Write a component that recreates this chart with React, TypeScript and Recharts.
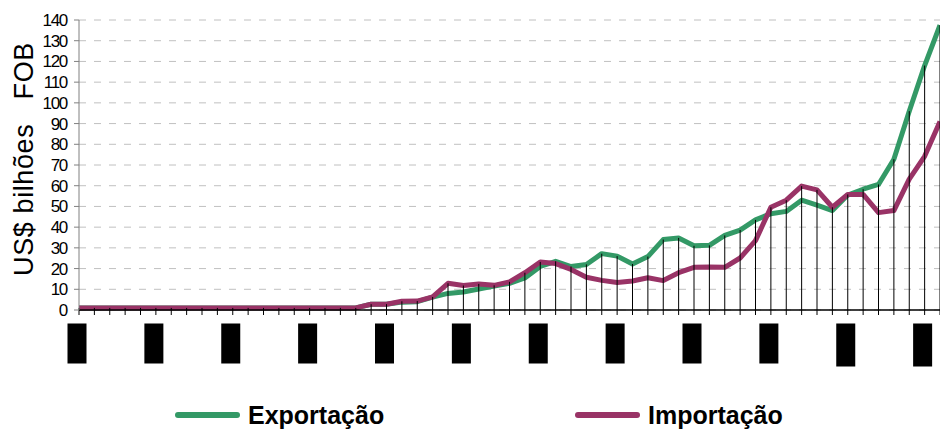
import React from "react";
import { LineChart, Line, XAxis, YAxis, CartesianGrid, ErrorBar } from "recharts";

const years: number[] = [
  1950, 1951, 1952, 1953, 1954, 1955, 1956, 1957, 1958, 1959,
  1960, 1961, 1962, 1963, 1964, 1965, 1966, 1967, 1968, 1969,
  1970, 1971, 1972, 1973, 1974, 1975, 1976, 1977, 1978, 1979,
  1980, 1981, 1982, 1983, 1984, 1985, 1986, 1987, 1988, 1989,
  1990, 1991, 1992, 1993, 1994, 1995, 1996, 1997, 1998, 1999,
  2000, 2001, 2002, 2003, 2004, 2005, 2006,
];

const exportacao: number[] = [
  1.0, 1.0, 1.0, 1.0, 1.0, 1.0, 1.0, 1.0, 1.0, 1.0,
  1.0, 1.0, 1.0, 1.0, 1.0, 1.0, 1.0, 1.0, 1.0, 2.8,
  2.8, 3.8, 4.0, 6.2, 8.0, 8.7, 10.1, 11.6, 12.9, 15.5,
  21.0, 23.5, 21.0, 22.0, 27.2, 26.0, 22.2, 25.8, 34.0, 34.8,
  31.0, 31.2, 36.0, 38.6, 43.5, 46.5, 47.6, 53.0, 50.6, 48.0,
  55.5, 58.3, 60.6, 72.8, 96.0, 118.0, 137.5,
];

const importacao: number[] = [
  1.0, 1.0, 1.0, 1.0, 1.0, 1.0, 1.0, 1.0, 1.0, 1.0,
  1.0, 1.0, 1.0, 1.0, 1.0, 1.0, 1.0, 1.0, 1.0, 2.8,
  2.8, 4.2, 4.3, 6.3, 12.9, 11.8, 12.6, 11.9, 13.6, 18.0,
  23.2, 22.4, 19.6, 15.8, 14.3, 13.3, 14.0, 15.6, 14.2, 18.0,
  20.6, 20.8, 20.6, 25.1, 33.5, 49.6, 53.0, 59.8, 58.0, 49.6,
  55.8, 55.8, 47.0, 48.0, 63.2, 74.2, 91.0,
];

const yTicks: number[] = [0, 10, 20, 30, 40, 50, 60, 70, 80, 90, 100, 110, 120, 130, 140];

const GREEN = "#339966";
const MAGENTA = "#993366";

const data = years.map((year, i) => ({
  year,
  exp: exportacao[i],
  imp: importacao[i],
  top: Math.max(exportacao[i], importacao[i]),
}));

const YearTick = (props: any) => {
  const { x, y, payload } = props;
  const yr = Number(payload.value);
  if ((yr - 1950) % 5 !== 0) return <g />;
  const h = yr >= 2000 ? 43 : 40;
  const cy = y + 6.5 + h / 2;
  return (
    <g>
      <rect x={x - 11.5} y={y + 6.5} width={19} height={h} fill="#000" />
      <text
        x={x - 2}
        y={cy + 5}
        fontSize={14}
        fill="#000"
        textAnchor="middle"
        fontFamily="Liberation Sans"
        transform={`rotate(-90 ${x - 2} ${cy})`}
      >
        {yr}
      </text>
    </g>
  );
};

const YLabel = () => (
  <text
    x={33}
    y={159}
    transform="rotate(-90 33 159)"
    textAnchor="middle"
    fontSize={27}
    fontFamily="Liberation Sans, Arial, sans-serif"
    fill="#000"
    letterSpacing={0.6}
    xmlSpace="preserve"
    style={{ whiteSpace: "pre" }}
  >
    {"US$ bilhões   FOB"}
  </text>
);

const LegendItem = ({ color, label, left }: { color: string; label: string; left: number }) => (
  <div
    style={{
      position: "absolute",
      left,
      top: 402,
      height: 26,
      display: "flex",
      alignItems: "center",
    }}
  >
    <span
      style={{
        display: "inline-block",
        width: 65,
        height: 6,
        background: color,
        borderRadius: 3,
      }}
    />
    <span
      style={{
        marginLeft: 8,
        fontFamily: "Liberation Sans, Arial, sans-serif",
        fontWeight: "bold",
        fontSize: 25,
        lineHeight: "26px",
        color: "#000",
        whiteSpace: "nowrap",
      }}
    >
      {label}
    </span>
  </div>
);

export default function App() {
  return (
    <div style={{ position: "absolute", left: 0, top: 0, width: 940, height: 435, background: "#fff" }}>
      <LineChart
        width={940}
        height={435}
        data={data}
        margin={{ top: 20, right: 0, bottom: 65, left: 0 }}
      >
        <CartesianGrid vertical={false} stroke="#c0c0c0" strokeDasharray="7 8" />
        <XAxis
          dataKey="year"
          interval={0}
          tickSize={5}
          height={60}
          axisLine={{ stroke: "#000", strokeWidth: 1.5 }}
          tickLine={{ stroke: "#000" }}
          tick={<YearTick />}
        />
        <YAxis
          width={79}
          domain={[0, 140]}
          ticks={yTicks}
          interval={0}
          tickSize={5}
          tickMargin={7}
          axisLine={{ stroke: "#808080" }}
          tickLine={{ stroke: "#808080" }}
          tick={{ fontSize: 17, fill: "#000", fontFamily: "Liberation Sans, Arial, sans-serif", letterSpacing: -1.3 }}
          label={<YLabel />}
        />
        <Line
          type="linear"
          dataKey="exp"
          stroke={GREEN}
          strokeWidth={5}
          strokeLinejoin="round"
          dot={false}
          activeDot={false}
          isAnimationActive={false}
        />
        <Line
          type="linear"
          dataKey="imp"
          stroke={MAGENTA}
          strokeWidth={5}
          strokeLinejoin="round"
          dot={false}
          activeDot={false}
          isAnimationActive={false}
        />
        <Line
          type="linear"
          dataKey="top"
          stroke="none"
          dot={false}
          activeDot={false}
          legendType="none"
          isAnimationActive={false}
        >
          <ErrorBar
            dataKey={(d: any) => [d.top, 0]}
            direction="y"
            width={0}
            stroke="#000"
            strokeWidth={1}
            isAnimationActive={false}
          />
        </Line>
      </LineChart>
      <LegendItem color={GREEN} label="Exportação" left={175} />
      <LegendItem color={MAGENTA} label="Importação" left={575} />
    </div>
  );
}
